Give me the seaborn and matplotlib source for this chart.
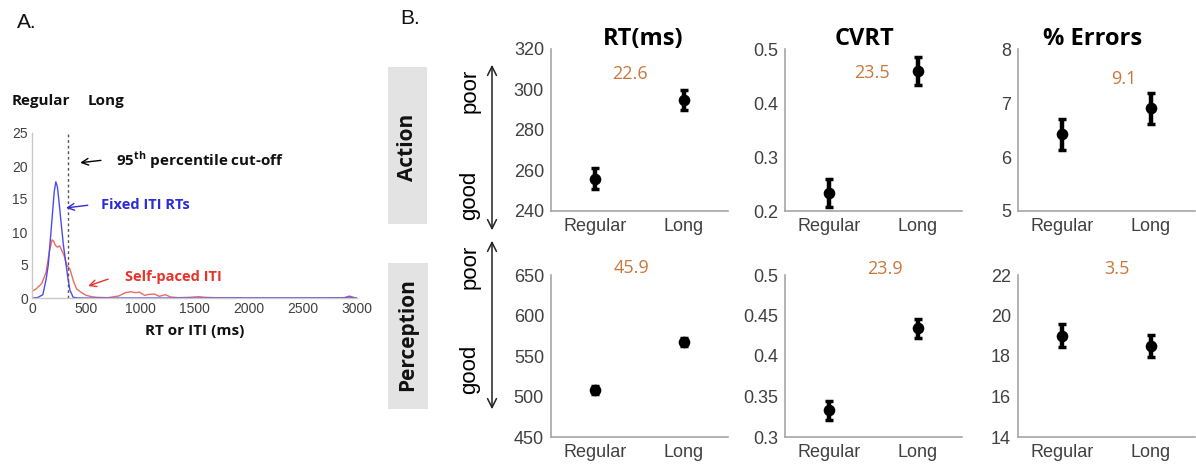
import matplotlib
matplotlib.use("Agg")
import matplotlib.pyplot as plt
import seaborn as sns
import pandas as pd
from matplotlib.patches import Rectangle

sns.set_theme(style="white")
plt.rcParams['font.family'] = ['Liberation Sans', 'DejaVu Sans']
plt.rcParams['mathtext.fontset'] = 'custom'
plt.rcParams['mathtext.bf'] = 'Open Sans:bold'
plt.rcParams['mathtext.rm'] = 'Open Sans'

# ---------------- Panel A data ----------------
fixed_ms = [0, 50, 100, 130, 150, 170, 190, 205, 220, 235, 250, 270, 290, 310, 330, 350,
            380, 420, 500, 1000, 1500, 2000, 2500, 2880, 2930, 2980, 3000]
fixed_val = [0, 0.05, 0.5, 2.8, 5.0, 9.0, 13.0, 16.1, 17.6, 16.8, 14.5, 11.2, 8.0, 5.6, 3.2, 1.2,
             0.1, 0.02, 0, 0, 0, 0, 0, 0, 0.15, 0, 0]
self_ms = [0, 40, 90, 130, 160, 185, 200, 215, 235, 255, 275, 295, 320, 350, 380, 410, 450, 500,
           550, 600, 700, 800, 860, 910, 960, 990, 1040, 1080, 1130, 1175, 1230, 1280, 1350, 1450,
           1540, 1600, 1700, 1850, 2000, 2500, 2880, 2930, 2980, 3000]
self_val = [1.0, 1.4, 2.2, 3.9, 7.0, 8.8, 8.6, 8.0, 7.7, 7.9, 7.2, 6.5, 5.0, 4.4, 2.7, 1.4, 0.9, 0.4,
            0.2, 0.1, 0.05, 0.3, 0.8, 0.95, 0.8, 0.9, 0.4, 0.55, 0.6, 0.25, 0.5, 0.15, 0.05, 0.1,
            0.2, 0.1, 0.05, 0.05, 0.02, 0.02, 0.05, 0.3, 0.05, 0.0]
cutoff_ms = 329
a_xticks = [0, 500, 1000, 1500, 2000, 2500, 3000]
a_yticks = [0, 5, 10, 15, 20, 25]

# ---------------- Panel B data ----------------
conditions = ["Regular", "Long"]
titles = ["RT(ms)", "CVRT", "% Errors"]
rows = ["Action", "Perception"]

action_rt = [256, 294.8]
action_rt_err = [5, 5]
action_cvrt = [0.234, 0.46]
action_cvrt_err = [0.026, 0.026]
action_err = [6.42, 6.90]
action_err_err = [0.29, 0.28]

perc_rt = [508, 566.8]
perc_rt_err = [5, 5]
perc_cvrt = [0.333, 0.434]
perc_cvrt_err = [0.012, 0.012]
perc_err = [19.0, 18.5]
perc_err_err = [0.56, 0.56]

effect_labels = [["22.6", "23.5", "9.1"], ["45.9", "23.9", "3.5"]]

ylims = [[(240, 320), (0.2, 0.5), (5, 8)], [(450, 650), (0.3, 0.5), (14, 22)]]
yticks = [[[240, 260, 280, 300, 320], [0.2, 0.3, 0.4, 0.5], [5, 6, 7, 8]],
          [[450, 500, 550, 600, 650], [0.3, 0.35, 0.4, 0.45, 0.5], [14, 16, 18, 20, 22]]]
yticklabels = [[["240", "260", "280", "300", "320"], ["0.2", "0.3", "0.4", "0.5"], ["5", "6", "7", "8"]],
               [["450", "500", "550", "600", "650"], ["0.3", "0.35", "0.4", "0.45", "0.5"],
                ["14", "16", "18", "20", "22"]]]

values = [[(action_rt, action_rt_err), (action_cvrt, action_cvrt_err), (action_err, action_err_err)],
          [(perc_rt, perc_rt_err), (perc_cvrt, perc_cvrt_err), (perc_err, perc_err_err)]]

W, H = 1196, 466
fig = plt.figure(figsize=(W / 100, H / 100), dpi=100)

def fx(px):
    return px / W

def fy(py):
    return 1 - py / H

spine_col = '#a6a6a6'
tick_col = '#404040'
orange = '#C8783C'

# ---------------- Panel A ----------------
axA = fig.add_axes([fx(32), fy(298), fx(357) - fx(32), fy(133) - fy(298)])
dfA = pd.concat([
    pd.DataFrame({"ms": self_ms, "val": self_val, "series": "Self-paced ITI"}),
    pd.DataFrame({"ms": fixed_ms, "val": fixed_val, "series": "Fixed ITI RTs"}),
])
sns.lineplot(data=dfA, x="ms", y="val", hue="series",
             palette={"Self-paced ITI": "#ee6a5e", "Fixed ITI RTs": "#4b4bf0"},
             linewidth=1.0, legend=False, ax=axA)
axA.axvline(cutoff_ms, color='#555555', linestyle=(0, (2, 2)), linewidth=1.0)
axA.set_xlim(0, 3000)
axA.set_ylim(0, 25)
axA.set_xticks(a_xticks)
axA.set_yticks(a_yticks)
axA.tick_params(axis='both', length=0, labelsize=10, colors=tick_col, pad=3)
for s in ['top', 'right']:
    axA.spines[s].set_visible(False)
for s in ['left', 'bottom']:
    axA.spines[s].set_color('#c8c8c8')
    axA.spines[s].set_linewidth(1.0)
axA.set_xlabel("RT or ITI (ms)", fontfamily='Open Sans', fontweight='bold', fontsize=11,
               color='#111111', labelpad=6)
axA.set_ylabel("")

axA.annotate("", xy=(419, 20.45), xytext=(662, 20.9),
             arrowprops=dict(arrowstyle='->', color='black', lw=1.0, mutation_scale=12))
axA.text(773, 20.9, r"95$^{\mathbf{th}}$ percentile cut-off", fontfamily='Open Sans',
         fontweight='bold', fontsize=11, va='center', ha='left', color='#111111')
axA.annotate("", xy=(289, 13.6), xytext=(540, 14.1),
             arrowprops=dict(arrowstyle='->', color='#2b2bd8', lw=1.0, mutation_scale=12))
axA.text(634, 14.1, "Fixed ITI RTs", fontfamily='Open Sans', fontweight='bold', fontsize=10.5,
         va='center', ha='left', color='#2b2bd8')
axA.annotate("", xy=(494, 1.67), xytext=(727, 3.0),
             arrowprops=dict(arrowstyle='->', color='#e8322a', lw=1.0, mutation_scale=12))
axA.text(857, 3.2, "Self-paced ITI", fontfamily='Open Sans', fontweight='bold', fontsize=10.5,
         va='center', ha='left', color='#e8322a')

fig.text(fx(12), fy(101), conditions[0], fontfamily='Open Sans', fontweight='bold', fontsize=11,
         va='center', ha='left', color='#111111')
fig.text(fx(88), fy(101), conditions[1], fontfamily='Open Sans', fontweight='bold', fontsize=11,
         va='center', ha='left', color='#111111')
fig.text(fx(17), fy(22), "A.", fontsize=15, va='center', ha='left', color='#111111')
fig.text(fx(400), fy(18), "B.", fontsize=15, va='center', ha='left', color='#111111')

# ---------------- Panel B ----------------
col_left = [551, 785, 1018]
row_top = [49, 275]
ax_w, ax_h = 177, 162
title_x = [0.52, 0.45, 0.42]
eff_pos = [[(0.446, 0.846), (0.49, 0.854), (0.60, 0.815)],
           [(0.456, 1.045), (0.565, 1.04), (0.557, 1.04)]]

for r in range(2):
    for c in range(3):
        ax = fig.add_axes([fx(col_left[c]), fy(row_top[r] + ax_h), fx(ax_w), fy(row_top[r]) - fy(row_top[r] + ax_h)])
        vals, errs = values[r][c]
        df = pd.DataFrame({"cond": conditions, "val": vals})
        pos = list(range(len(conditions)))
        ax.errorbar(pos, vals, yerr=errs, fmt='none', ecolor='black', elinewidth=3.2,
                    capsize=3, capthick=2.5, zorder=2)
        sns.scatterplot(data=df, x="cond", y="val", color='black', s=70, edgecolor='black',
                        linewidth=0, ax=ax, zorder=3)
        ax.set_xlim(-0.5, 1.5)
        ax.set_ylim(*ylims[r][c])
        ax.set_yticks(yticks[r][c])
        ax.set_yticklabels(yticklabels[r][c])
        ax.set_xticks(pos)
        ax.set_xticklabels(conditions)
        ax.set_xlabel("")
        ax.set_ylabel("")
        ax.tick_params(axis='both', length=0, labelsize=13, colors=tick_col, pad=5)
        for s in ['top', 'right']:
            ax.spines[s].set_visible(False)
        for s in ['left', 'bottom']:
            ax.spines[s].set_color(spine_col)
            ax.spines[s].set_linewidth(1.2)
        ax.text(eff_pos[r][c][0], eff_pos[r][c][1], effect_labels[r][c], transform=ax.transAxes,
                ha='center', va='center', fontsize=13, fontfamily='Open Sans', color=orange)
        if r == 0:
            ax.text(title_x[c], 1.062, titles[c], transform=ax.transAxes, ha='center', va='center',
                    fontsize=17, fontfamily='Open Sans', fontweight='bold', color='black')

# row label boxes
box_specs = [(388, 67, 39, 157, 147), (388, 263, 40, 146, 335)]
for (bx, by, bw, bh, cy), name in zip(box_specs, rows):
    fig.patches.append(Rectangle((fx(bx), fy(by + bh)), fx(bw), fy(by) - fy(by + bh),
                                 transform=fig.transFigure, facecolor='#e3e3e3', edgecolor='none'))
    fig.text(fx(bx + bw / 2), fy(cy), name, rotation=90, ha='center', va='center',
             fontfamily='Open Sans', fontweight='bold', fontsize=15, color='#111111')

# poor/good arrows
arrow_spans = [(62, 233), (238, 412)]
poor_y = [91, 267]
good_y = [195, 369]
for (y0, y1), py, gy in zip(arrow_spans, poor_y, good_y):
    fig.add_artist(matplotlib.patches.FancyArrowPatch((fx(492), fy(y1)), (fx(492), fy(y0)),
                   transform=fig.transFigure, arrowstyle='<->', mutation_scale=16,
                   color='#222222', lw=1.1))
    fig.text(fx(470), fy(py), "poor", rotation=90, ha='center', va='center', fontsize=16,
             color='black')
    fig.text(fx(470), fy(gy), "good", rotation=90, ha='center', va='center', fontsize=16,
             color='black')

fig.savefig("out.png", dpi=100)
